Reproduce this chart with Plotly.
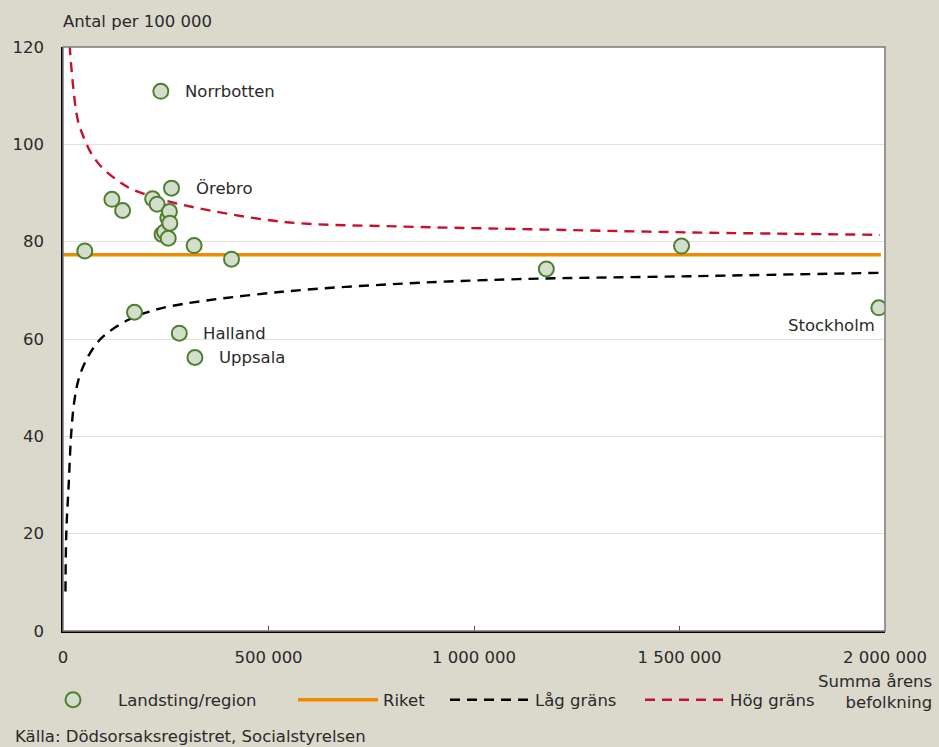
import plotly.graph_objects as go

# Data: landsting/regioner (population sum, rate per 100 000)
pop = [53000, 119000, 145000, 174000, 218000, 229000, 238000, 241000, 247000,
       255000, 256000, 259000, 260000, 264000, 283000, 319000, 321000, 410000,
       1176000, 1505000, 1985000]
rate = [78.1, 88.7, 86.4, 65.5, 88.8, 87.7, 110.9, 81.5, 82.0,
        84.9, 80.7, 86.2, 83.8, 91.0, 61.2, 79.2, 56.2, 76.4,
        74.4, 79.1, 66.4]
names = ["", "", "", "", "", "", "Norrbotten", "", "",
         "", "", "", "", "Örebro", "Halland", "", "Uppsala", "",
         "", "", "Stockholm"]

riket_x = [0, 1990000]
riket_y = [77.3, 77.3]

low_x = [6000, 8000, 14000, 20000, 28000, 40000, 61000, 89000, 117000, 158000,
         198000, 265000, 533000, 832000, 1107000, 1527000, 1988000]
low_y = [8.1, 20.1, 30.3, 40.6, 47.5, 52.3, 56.4, 59.8, 61.8, 63.9,
         65.3, 66.8, 69.7, 71.4, 72.3, 72.9, 73.6]

high_x = [16000, 24000, 36000, 53000, 69000, 93000, 129000, 162000, 198000,
          274000, 533000, 832000, 1107000, 1527000, 1988000]
high_y = [120.4, 112.5, 105.0, 100.9, 98.1, 95.4, 92.8, 91.0, 89.8,
          87.9, 84.1, 83.1, 82.6, 81.9, 81.4]

x_ticks = [0, 500000, 1000000, 1500000, 2000000]
x_ticktext = ["0", "500 000", "1 000 000", "1 500 000", "2 000 000"]
y_ticks = [0, 20, 40, 60, 80, 100, 120]

FONT = "DejaVu Sans"
FS = 16.5
TXT = "#2a2a2a"
BG = "#dbd8cc"

fig = go.Figure()

fig.add_trace(go.Scatter(
    x=low_x, y=low_y, mode="lines", name="Låg gräns",
    line=dict(color="black", width=2.4, dash="10px,7px", shape="spline"),
    legend="legend3"))
fig.add_trace(go.Scatter(
    x=high_x, y=high_y, mode="lines", name="Hög gräns",
    line=dict(color="#c8102e", width=2.4, dash="10px,7px", shape="spline"),
    legend="legend4"))
fig.add_trace(go.Scatter(
    x=riket_x, y=riket_y, mode="lines", name="Riket",
    line=dict(color="#f08a00", width=3.5), legend="legend2"))
fig.add_trace(go.Scatter(
    x=pop, y=rate, mode="markers", name="Landsting/region",
    marker=dict(size=15, color="#d3dfcc", line=dict(color="#4f8030", width=2)),
    legend="legend"))

# Labels for named regions
for px, ry, nm in zip(pop, rate, names):
    if not nm:
        continue
    if nm == "Stockholm":
        fig.add_annotation(x=px, y=ry, text=nm, showarrow=False,
                           xanchor="right", yanchor="middle", xshift=-2, yshift=-18,
                           font=dict(family=FONT, size=FS, color=TXT))
    else:
        fig.add_annotation(x=px, y=ry, text=nm, showarrow=False,
                           xanchor="left", yanchor="middle", xshift=22,
                           font=dict(family=FONT, size=FS, color=TXT))

# Plot frame (top/right grey)
fig.add_shape(type="rect", xref="paper", yref="paper", x0=0, y0=0, x1=1, y1=1,
              line=dict(color="#7a7a7a", width=1.5), layer="above")

fig.add_annotation(xref="paper", yref="paper", x=-0.0024, y=1.043,
                   text="Antal per 100 000", showarrow=False,
                   xanchor="left", yanchor="middle",
                   font=dict(family=FONT, size=FS, color=TXT))
fig.add_annotation(xref="paper", yref="paper", x=1.0593, y=-0.1045,
                   text="Summa årens<br>befolkning", showarrow=False, align="right",
                   xanchor="right", yanchor="middle",
                   font=dict(family=FONT, size=FS, color=TXT))
fig.add_annotation(xref="paper", yref="paper", x=-0.0605, y=-0.1815,
                   text="Källa: Dödsorsaksregistret, Socialstyrelsen", showarrow=False,
                   xanchor="left", yanchor="middle",
                   font=dict(family=FONT, size=FS, color=TXT))

leg_common = dict(orientation="h", xref="container", yref="container",
                  yanchor="middle", y=1 - 700 / 747, bgcolor="rgba(0,0,0,0)",
                  font=dict(family=FONT, size=FS, color=TXT), itemwidth=80,
                  borderwidth=0)

fig.update_layout(
    width=939, height=747,
    paper_bgcolor=BG, plot_bgcolor="white",
    margin=dict(l=60, r=53, t=47, b=116),
    font=dict(family=FONT, size=FS, color=TXT),
    showlegend=True,
    legend=dict(x=28 / 939, **leg_common),
    legend2=dict(x=293 / 939, **leg_common),
    legend3=dict(x=445 / 939, **leg_common),
    legend4=dict(x=640 / 939, **leg_common),
    xaxis=dict(range=[0, 2000000], tickvals=x_ticks, ticktext=x_ticktext,
               showgrid=False, zeroline=False, showline=True, linecolor="black",
               linewidth=1.5, ticks="inside", ticklen=5, tickcolor="#555",
               ticklabelstandoff=10, fixedrange=True),
    yaxis=dict(range=[0, 120], tickvals=y_ticks, showgrid=True,
               gridcolor="#e3e0d8", gridwidth=1, zeroline=False, showline=True,
               linecolor="black", linewidth=1.5, ticks="", ticklabelstandoff=14,
               fixedrange=True),
)

fig.write_html(
    "out.html",
    config={"displayModeBar": False},
    post_script="document.body.style.margin='0';document.body.style.padding='0';"
                "document.documentElement.style.overflow='hidden';",
)
